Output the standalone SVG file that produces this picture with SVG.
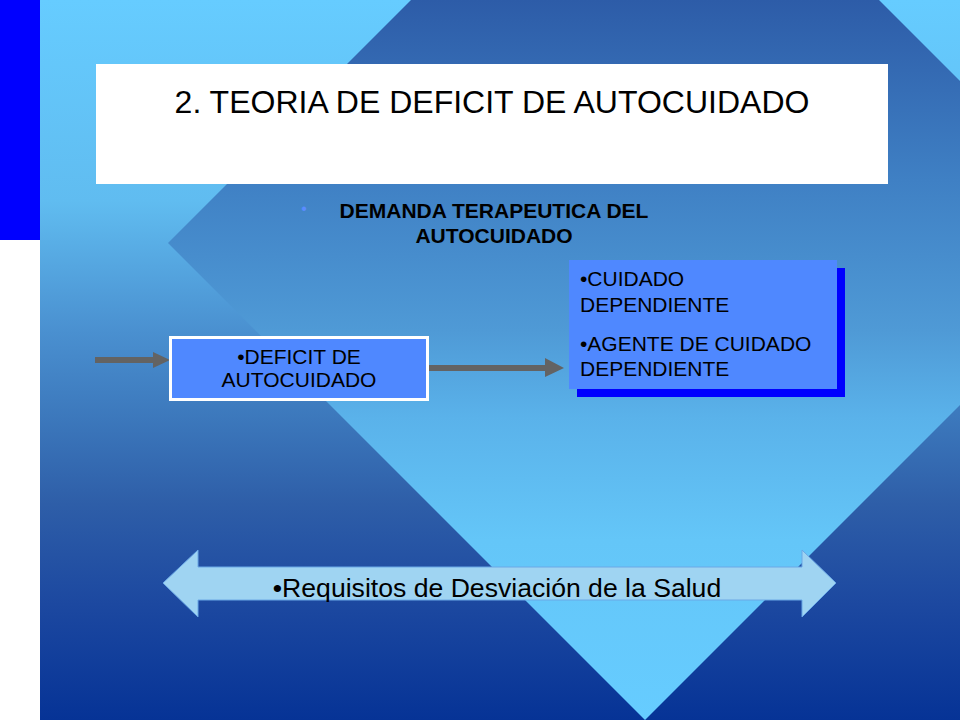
<svg xmlns="http://www.w3.org/2000/svg" width="960" height="720" viewBox="0 0 960 720">
  <defs>
    <linearGradient id="bg" gradientUnits="userSpaceOnUse" x1="0" y1="0" x2="0" y2="720">
      <stop offset="0" stop-color="#66ccff"/>
      <stop offset="0.28" stop-color="#60bcf0"/>
      <stop offset="0.46" stop-color="#4a90d0"/>
      <stop offset="0.58" stop-color="#3c78bc"/>
      <stop offset="0.70" stop-color="#2e5ea8"/>
      <stop offset="0.84" stop-color="#1c48a0"/>
      <stop offset="1" stop-color="#063396"/>
    </linearGradient>
    <linearGradient id="dia" gradientUnits="userSpaceOnUse" x1="0" y1="0" x2="0" y2="720">
      <stop offset="0" stop-color="#2d5ca8"/>
      <stop offset="0.25" stop-color="#3f80c4"/>
      <stop offset="0.46" stop-color="#4f9ad6"/>
      <stop offset="0.58" stop-color="#5ab2ea"/>
      <stop offset="0.75" stop-color="#64c6f8"/>
      <stop offset="1" stop-color="#66ccff"/>
    </linearGradient>
    <style>
      .sans { font-family: "Liberation Sans", Arial, sans-serif; fill: #000000; }
      .title { font-size: 32px; }
      .sub { font-size: 21px; font-weight: bold; }
      .box { fill: #4f88ff; }
      .boxtxt { font-size: 21px; }
      .conn { fill: #636363; }
      .req { font-size: 26.6px; }
    </style>
  </defs>

  <g id="background">
    <rect x="0" y="0" width="960" height="720" fill="#ffffff"/>
    <rect x="0" y="0" width="40" height="240" fill="#0000ff"/>
    <rect x="40" y="0" width="920" height="720" fill="url(#bg)"/>
    <polygon points="645,-234 1122,243 645,720 168,243" fill="url(#dia)"/>
  </g>

  <g id="title">
    <rect x="96" y="64" width="792" height="120" fill="#ffffff"/>
    <text class="sans title" x="492" y="113" text-anchor="middle">2. TEORIA DE DEFICIT DE AUTOCUIDADO</text>
  </g>

  <g id="subtitle">
    <text class="sans" x="304" y="214" text-anchor="middle" font-size="16" style="fill:#5a8cff">•</text>
    <text class="sans sub" x="494" y="218" text-anchor="middle">DEMANDA TERAPEUTICA DEL</text>
    <text class="sans sub" x="494" y="243" text-anchor="middle">AUTOCUIDADO</text>
  </g>

  <g id="connectors">
    <polygon class="conn" points="95,357 153,357 153,352 170,360 153,368 153,363 95,363"/>
    <polygon class="conn" points="428,365 545,365 545,358 564,368 545,377 545,371 428,371"/>
  </g>

  <g id="node-deficit">
    <rect class="box" x="170.5" y="337.5" width="257" height="62" stroke="#ffffff" stroke-width="3"/>
    <text class="sans boxtxt" x="299" y="364" text-anchor="middle">•DEFICIT DE</text>
    <text class="sans boxtxt" x="299" y="387" text-anchor="middle">AUTOCUIDADO</text>
  </g>

  <g id="node-cuidado">
    <rect x="577" y="268" width="268" height="129" fill="#0000ff"/>
    <rect class="box" x="569" y="260" width="268" height="129"/>
    <text class="sans boxtxt" x="580" y="286">•CUIDADO</text>
    <text class="sans boxtxt" x="580" y="312">DEPENDIENTE</text>
    <text class="sans boxtxt" x="580" y="351">•AGENTE DE CUIDADO</text>
    <text class="sans boxtxt" x="580" y="376">DEPENDIENTE</text>
  </g>

  <g id="node-requisitos">
    <polygon points="163,583 198,550 198,567 802,567 802,550 836,583 802,617 802,600 198,600 198,617" fill="#9fd4f2" stroke="#6aa8e6" stroke-width="1"/>
    <text class="sans req" x="497" y="597" text-anchor="middle">•Requisitos de Desviación de la Salud</text>
  </g>
</svg>
